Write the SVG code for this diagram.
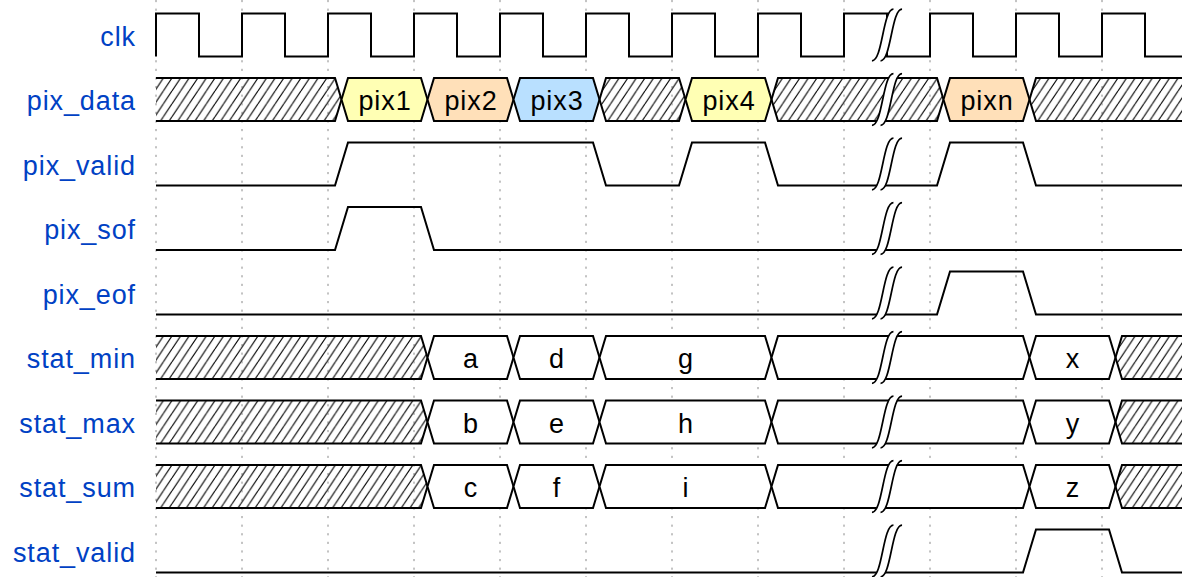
<svg xmlns="http://www.w3.org/2000/svg" xmlns:xlink="http://www.w3.org/1999/xlink" width="1182" height="577" viewBox="0 0 1182 577">
<style>
.lbl{font-family:"Liberation Sans",Arial,Helvetica,sans-serif;font-size:27px;letter-spacing:0.9px;fill:#0041c4;text-anchor:end}
.dt{font-family:"Liberation Sans",Arial,Helvetica,sans-serif;font-size:27px;letter-spacing:0.9px;fill:#000;text-anchor:middle}
.w{fill:none;stroke:#000;stroke-width:2}
.grid{stroke:#888;stroke-width:1;stroke-dasharray:2.15 6.45}
.hx{fill:url(#hatch);stroke:none}
.white{fill:#fff;stroke:#000;stroke-width:2}
.yel{fill:#ffffb4;stroke:#000;stroke-width:2}
.org{fill:#ffe0b9;stroke:#000;stroke-width:2}
.blu{fill:#b9e0ff;stroke:#000;stroke-width:2}
.hxs{fill:url(#hatch);stroke:#000;stroke-width:2}
</style>
<defs>
<pattern id="hatch" patternUnits="userSpaceOnUse" width="8.6" height="12.9">
<path d="M-8.6,12.9 L0,0 M0,12.9 L8.6,0 M8.6,12.9 L17.2,0" stroke="#000" stroke-width="1.1" fill="none"/>
</pattern>
<g id="gap">
<g transform="scale(2.15)">
<path d="M7,-2 l-4,0 c-5,0 -5,24 -10,24 l4,0 C2,22 2,-2 7,-2 z" fill="#fff" stroke="none"/>
<path d="M-7,22 C-2,22 -2,-2 3,-2 M-3,22 C2,22 2,-2 7,-2" fill="none" stroke="#000" stroke-width="0.8"/>
</g>
</g>
</defs>
<rect x="0" y="0" width="1182" height="577" fill="#fff"/>
<g id="grid">
<line class="grid" x1="156" y1="0" x2="156" y2="577"/>
<line class="grid" x1="242" y1="0" x2="242" y2="577"/>
<line class="grid" x1="328" y1="0" x2="328" y2="577"/>
<line class="grid" x1="414" y1="0" x2="414" y2="577"/>
<line class="grid" x1="500" y1="0" x2="500" y2="577"/>
<line class="grid" x1="586" y1="0" x2="586" y2="577"/>
<line class="grid" x1="672" y1="0" x2="672" y2="577"/>
<line class="grid" x1="758" y1="0" x2="758" y2="577"/>
<line class="grid" x1="844" y1="0" x2="844" y2="577"/>
<line class="grid" x1="930" y1="0" x2="930" y2="577"/>
<line class="grid" x1="1016" y1="0" x2="1016" y2="577"/>
<line class="grid" x1="1102" y1="0" x2="1102" y2="577"/>
</g>
<g id="labels">
<text class="lbl" x="136" y="45.5">clk</text>
<text class="lbl" x="136" y="110">pix_data</text>
<text class="lbl" x="136" y="174.5">pix_valid</text>
<text class="lbl" x="136" y="239">pix_sof</text>
<text class="lbl" x="136" y="303.5">pix_eof</text>
<text class="lbl" x="136" y="368">stat_min</text>
<text class="lbl" x="136" y="432.5">stat_max</text>
<text class="lbl" x="136" y="497">stat_sum</text>
<text class="lbl" x="136" y="561.5">stat_valid</text>
</g>
<g id="clk">
<path class="w" d="M156,56.5 V13.5 H199 V56.5 H242 V13.5 H285 V56.5 H328 V13.5 H371 V56.5 H414 V13.5 H457 V56.5 H500 V13.5 H543 V56.5 H586 V13.5 H629 V56.5 H672 V13.5 H715 V56.5 H758 V13.5 H801 V56.5 H844 V13.5 H887 V56.5 H930 V13.5 H973 V56.5 H1016 V13.5 H1059 V56.5 H1102 V13.5 H1145 V56.5 H1190"/>
<use xlink:href="#gap" href="#gap" transform="translate(887,13.5)"/>
</g>
<g id="pix_data" transform="translate(0,78)">
<polygon class="hx" points="156,0 335,0 341.5,21.5 335,43 156,43"/>
<path class="w" d="M156,0 H335 L341.5,21.5 L335,43 H156"/>
<polygon class="yel" points="348,0 421,0 427.5,21.5 421,43 348,43 341.5,21.5"/>
<polygon class="org" points="434,0 507,0 513.5,21.5 507,43 434,43 427.5,21.5"/>
<polygon class="blu" points="520,0 593,0 599.5,21.5 593,43 520,43 513.5,21.5"/>
<polygon class="hxs" points="606,0 679,0 685.5,21.5 679,43 606,43 599.5,21.5"/>
<polygon class="yel" points="692,0 765,0 771.5,21.5 765,43 692,43 685.5,21.5"/>
<polygon class="hxs" points="778,0 937,0 943.5,21.5 937,43 778,43 771.5,21.5"/>
<polygon class="org" points="950,0 1023,0 1029.5,21.5 1023,43 950,43 943.5,21.5"/>
<polygon class="hx" points="1036,0 1190,0 1190,43 1036,43 1029.5,21.5"/>
<path class="w" d="M1190,0 H1036 L1029.5,21.5 L1036,43 H1190"/>
<text class="dt" x="385" y="32">pix1</text>
<text class="dt" x="471" y="32">pix2</text>
<text class="dt" x="557" y="32">pix3</text>
<text class="dt" x="729" y="32">pix4</text>
<text class="dt" x="987" y="32">pixn</text>
<use xlink:href="#gap" href="#gap" transform="translate(887,0)"/>
</g>
<g id="pix_valid" transform="translate(0,142.5)">
<path class="w" d="M156,43 H335 L348,0 H593 L606,43 H679 L692,0 H765 L778,43 H937 L950,0 H1023 L1036,43 H1190"/>
<use xlink:href="#gap" href="#gap" transform="translate(887,0)"/>
</g>
<g id="pix_sof" transform="translate(0,207)">
<path class="w" d="M156,43 H335 L348,0 H421 L434,43 H1190"/>
<use xlink:href="#gap" href="#gap" transform="translate(887,0)"/>
</g>
<g id="pix_eof" transform="translate(0,271.5)">
<path class="w" d="M156,43 H937 L950,0 H1023 L1036,43 H1190"/>
<use xlink:href="#gap" href="#gap" transform="translate(887,0)"/>
</g>
<g id="stat_min" transform="translate(0,336)">
<polygon class="hx" points="156,0 421,0 427.5,21.5 421,43 156,43"/>
<path class="w" d="M156,0 H421 L427.5,21.5 L421,43 H156"/>
<polygon class="white" points="434,0 507,0 513.5,21.5 507,43 434,43 427.5,21.5"/>
<polygon class="white" points="520,0 593,0 599.5,21.5 593,43 520,43 513.5,21.5"/>
<polygon class="white" points="606,0 765,0 771.5,21.5 765,43 606,43 599.5,21.5"/>
<polygon class="white" points="778,0 1023,0 1029.5,21.5 1023,43 778,43 771.5,21.5"/>
<polygon class="white" points="1036,0 1109,0 1115.5,21.5 1109,43 1036,43 1029.5,21.5"/>
<polygon class="hx" points="1122,0 1190,0 1190,43 1122,43 1115.5,21.5"/>
<path class="w" d="M1190,0 H1122 L1115.5,21.5 L1122,43 H1190"/>
<text class="dt" x="471" y="32">a</text>
<text class="dt" x="557" y="32">d</text>
<text class="dt" x="686" y="32">g</text>
<text class="dt" x="1073" y="32">x</text>
<use xlink:href="#gap" href="#gap" transform="translate(887,0)"/>
</g>
<g id="stat_max" transform="translate(0,400.5)">
<polygon class="hx" points="156,0 421,0 427.5,21.5 421,43 156,43"/>
<path class="w" d="M156,0 H421 L427.5,21.5 L421,43 H156"/>
<polygon class="white" points="434,0 507,0 513.5,21.5 507,43 434,43 427.5,21.5"/>
<polygon class="white" points="520,0 593,0 599.5,21.5 593,43 520,43 513.5,21.5"/>
<polygon class="white" points="606,0 765,0 771.5,21.5 765,43 606,43 599.5,21.5"/>
<polygon class="white" points="778,0 1023,0 1029.5,21.5 1023,43 778,43 771.5,21.5"/>
<polygon class="white" points="1036,0 1109,0 1115.5,21.5 1109,43 1036,43 1029.5,21.5"/>
<polygon class="hx" points="1122,0 1190,0 1190,43 1122,43 1115.5,21.5"/>
<path class="w" d="M1190,0 H1122 L1115.5,21.5 L1122,43 H1190"/>
<text class="dt" x="471" y="32">b</text>
<text class="dt" x="557" y="32">e</text>
<text class="dt" x="686" y="32">h</text>
<text class="dt" x="1073" y="32">y</text>
<use xlink:href="#gap" href="#gap" transform="translate(887,0)"/>
</g>
<g id="stat_sum" transform="translate(0,465)">
<polygon class="hx" points="156,0 421,0 427.5,21.5 421,43 156,43"/>
<path class="w" d="M156,0 H421 L427.5,21.5 L421,43 H156"/>
<polygon class="white" points="434,0 507,0 513.5,21.5 507,43 434,43 427.5,21.5"/>
<polygon class="white" points="520,0 593,0 599.5,21.5 593,43 520,43 513.5,21.5"/>
<polygon class="white" points="606,0 765,0 771.5,21.5 765,43 606,43 599.5,21.5"/>
<polygon class="white" points="778,0 1023,0 1029.5,21.5 1023,43 778,43 771.5,21.5"/>
<polygon class="white" points="1036,0 1109,0 1115.5,21.5 1109,43 1036,43 1029.5,21.5"/>
<polygon class="hx" points="1122,0 1190,0 1190,43 1122,43 1115.5,21.5"/>
<path class="w" d="M1190,0 H1122 L1115.5,21.5 L1122,43 H1190"/>
<text class="dt" x="471" y="32">c</text>
<text class="dt" x="557" y="32">f</text>
<text class="dt" x="686" y="32">i</text>
<text class="dt" x="1073" y="32">z</text>
<use xlink:href="#gap" href="#gap" transform="translate(887,0)"/>
</g>
<g id="stat_valid" transform="translate(0,529.5)">
<path class="w" d="M156,43 H1023 L1036,0 H1109 L1122,43 H1190"/>
<use xlink:href="#gap" href="#gap" transform="translate(887,0)"/>
</g>
<g id="connectors"></g>
</svg>
